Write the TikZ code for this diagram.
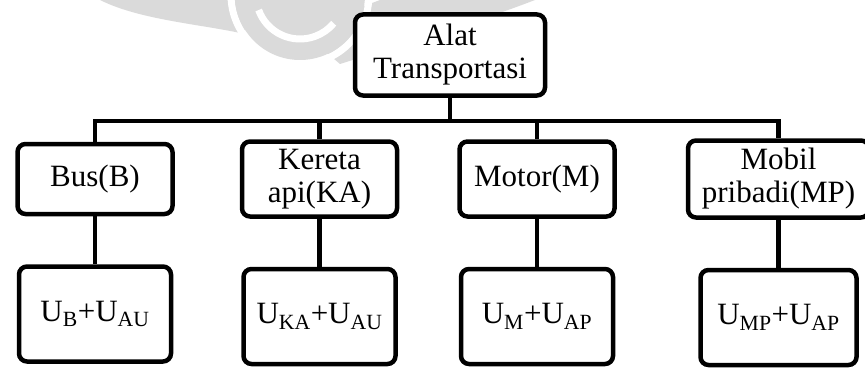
\documentclass[tikz,border=0pt]{standalone}
\usepackage{fontspec}
\setmainfont{Liberation Serif}
\usetikzlibrary{positioning}
\definecolor{ink}{HTML}{000000}
\definecolor{logogray}{HTML}{DADADA}
\tikzset{
  every node/.style={font=\fontsize{31}{33}\selectfont},
  box/.style={draw=ink, line width=4.5pt, rounded corners=8pt, align=center,
              fill=white, text=ink, inner sep=2pt},
  rootbox/.style={box, minimum width=190pt, minimum height=81pt},
  modebox/.style={box, minimum width=155pt, minimum height=75pt},
  sumbox/.style={box, minimum width=152pt, minimum height=95pt},
  link/.style={draw=ink, line width=4.5pt},
  logo/.style={fill=logogray, draw=none},
}

\begin{document}
\begin{tikzpicture}[x=1pt, y=1pt, node distance=48pt and 65pt]
\useasboundingbox (0,0) rectangle (865,-369);

% faded emblem behind the chart
\fill[logo] (100,0) -- (245,0) -- (245,-34) .. controls (200,-24) and (140,-20) .. (100,0) -- cycle;
\fill[logo] (380,0) -- (535,0) .. controls (470,-25) and (400,-45) .. (340,-64) -- (300,-30) -- cycle;
\draw[white, line width=7pt] (300,5) circle (69);
\fill[logo] (300,5) circle (65);
\draw[white, line width=7pt] (300,5) ++(200:44) arc (200:320:44);

\node[rootbox] (alat) at (450,-55) {Alat\\Transportasi};

\node[modebox, minimum height=70pt] (bus) at (95,-179) {Bus(B)};
\node[modebox, right=of bus] (kereta) {Kereta\\api(KA)};
\node[modebox, right=58pt of kereta] (motor) {Motor(M)};
\node[modebox, minimum width=181pt, minimum height=77pt, right=69pt of motor] (mobil) {Mobil\\pribadi(MP)};

\node[sumbox, below=of bus] (ubus) {U\textsubscript{B}+U\textsubscript{AU}};
\node[sumbox, below=of kereta] (ukereta) {U\textsubscript{KA}+U\textsubscript{AU}};
\node[sumbox, below=of motor] (umotor) {U\textsubscript{M}+U\textsubscript{AP}};
\node[sumbox, minimum width=156pt, below=of mobil] (umobil) {U\textsubscript{MP}+U\textsubscript{AP}};

\draw[link] (alat.south) -- ++(0,-23) coordinate (hub);
\draw[link] (bus.north) |- (hub) -| (mobil.north);
\draw[link] (kereta.north) -- (kereta.north |- hub);
\draw[link] (motor.north) -- (motor.north |- hub);
\foreach \up/\down in {bus/ubus, kereta/ukereta, motor/umotor, mobil/umobil}
  \draw[link] (\up) -- (\down);

\end{tikzpicture}
\end{document}
